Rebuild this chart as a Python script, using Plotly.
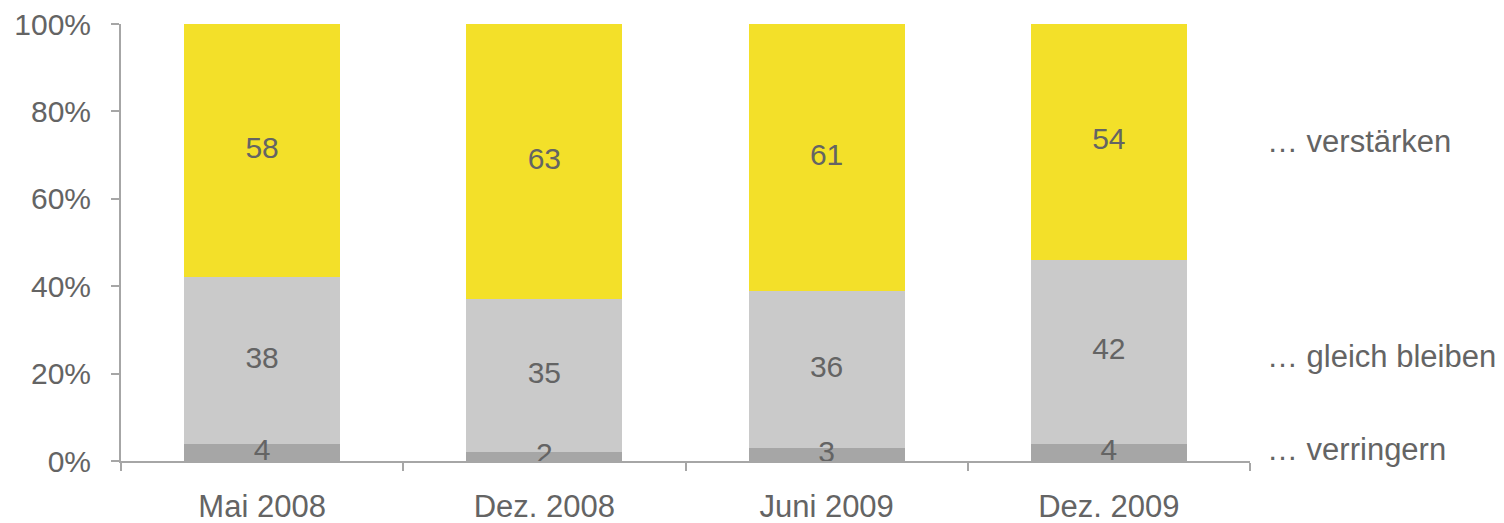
import plotly.graph_objects as go

# survey waves
categories = ["Mai 2008", "Dez. 2008", "Juni 2009", "Dez. 2009"]

# shares in percent, bottom to top
verringern = [4, 2, 3, 4]
gleich_bleiben = [38, 35, 36, 42]
verstaerken = [58, 63, 61, 54]

y_ticks = [0, 20, 40, 60, 80, 100]

series_names = ["… verringern", "… gleich bleiben", "… verstärken"]
series_values = [verringern, gleich_bleiben, verstaerken]
series_colors = ["#A6A6A6", "#CACACA", "#F3E029"]
label_shift = [3, -5, 0]  # small nudges of the right-hand labels (px, up is positive)

text_color = "#646464"
axis_color = "#A6A6A6"
font_family = "Liberation Sans, Arial, sans-serif"

fig = go.Figure()

base = [0] * len(categories)
mids = []
for name, vals, col in zip(series_names, series_values, series_colors):
    fig.add_trace(go.Bar(
        x=categories,
        y=vals,
        name=name,
        marker=dict(color=col, line=dict(width=0)),
        showlegend=False,
    ))
    mid = [b + v / 2 for b, v in zip(base, vals)]
    mids.append(mid)
    # value labels centred in each segment (also for the tiny ones)
    fig.add_trace(go.Scatter(
        x=categories,
        y=mid,
        mode="text",
        text=[str(v) for v in vals],
        textfont=dict(size=30, color=text_color, family=font_family),
        showlegend=False,
        hoverinfo="skip",
    ))
    base = [b + v for b, v in zip(base, vals)]

# series names to the right of the last bar
for name, mid, sh in zip(series_names, mids, label_shift):
    fig.add_annotation(
        text=name, x=1.013, xref="paper", xanchor="left",
        y=mid[-1], yref="y", yanchor="middle", yshift=sh, showarrow=False,
        font=dict(size=31, color=text_color, family=font_family),
    )

fig.update_layout(
    barmode="stack",
    bargap=0.447,
    width=1504,
    height=523,
    margin=dict(l=121, r=254, t=24, b=62, autoexpand=False),
    plot_bgcolor="white",
    paper_bgcolor="white",
    font=dict(family=font_family, size=30, color=text_color),
    xaxis=dict(
        showline=True, linecolor=axis_color, linewidth=2,
        ticks="outside", tickson="boundaries", ticklen=8, tickwidth=2, tickcolor=axis_color,
        showgrid=False, tickfont=dict(size=31, color=text_color),
        ticklabelstandoff=17, automargin=False,
    ),
    yaxis=dict(
        range=[0, 100], tickmode="array", tickvals=y_ticks,
        ticktext=[f"{v}%" for v in y_ticks],
        showline=True, linecolor=axis_color, linewidth=2,
        ticks="outside", ticklen=8, tickwidth=2, tickcolor=axis_color,
        showgrid=False, zeroline=False, tickfont=dict(size=30, color=text_color),
        ticklabelstandoff=14, automargin=False,
    ),
)

fig.write_html("out.html", config={"displayModeBar": False},
               post_script="document.body.style.margin='0';")
